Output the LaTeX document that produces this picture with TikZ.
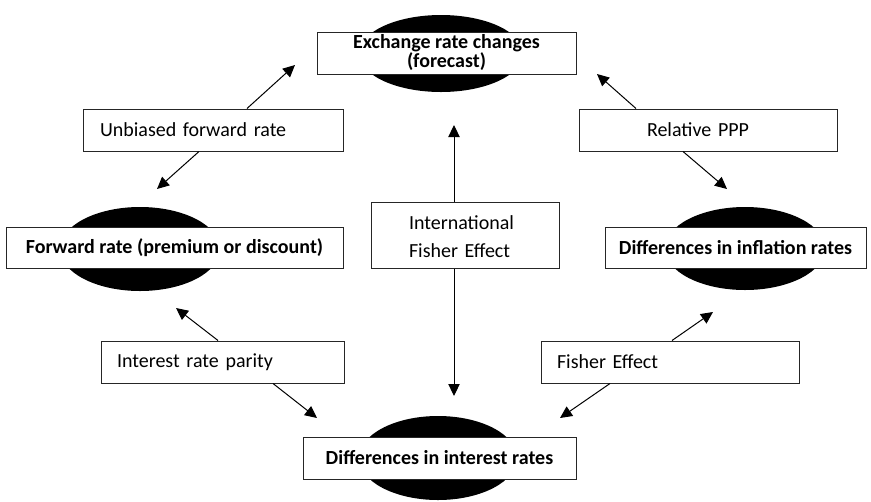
\documentclass[tikz,border=0pt]{standalone}
\usepackage{fontspec}
\setmainfont{Carlito}
\usetikzlibrary{shapes.geometric,arrows.meta}
\begin{document}
\begin{tikzpicture}[x=0.75pt,y=-0.75pt,
  blob/.style={ellipse,fill=black,draw=none,inner sep=0pt},
  keybox/.style={draw=black!85,line width=0.75pt,fill=white,inner sep=0pt,align=center,font=\fontsize{15}{14.25}\selectfont\bfseries},
  lbl/.style={draw=black!85,line width=0.75pt,fill=white,inner ysep=0pt,align=left,minimum height=31.5pt,font=\fontsize{15}{21}\selectfont},
  arr/.style={line width=0.75pt,-{Triangle[length=9pt,width=8.5pt]}}]
\useasboundingbox (0,0) rectangle (871,501);
% ellipses
\node[blob,minimum width=123pt,minimum height=57.75pt] (e1) at (441,53.5) {};
\node[blob,minimum width=120pt,minimum height=63pt] (e2) at (140,249) {};
\node[blob,minimum width=120pt,minimum height=62.25pt] (e3) at (745,248.5) {};
\node[blob,minimum width=118.5pt,minimum height=63pt] (e4) at (438,458) {};
% key boxes
\node[keybox,minimum width=194.25pt,minimum height=31.5pt,text height=25pt,text depth=4pt] (ex) at (446.5,53) {Exchange rate changes\\(forecast)};
\node[keybox,minimum width=252.75pt,minimum height=30.75pt] (fw) at (174.5,247.5) {Forward rate (premium or discount)};
\node[keybox,minimum width=195.75pt,minimum height=30.75pt] (inf) at (735.5,247.5) {Differences in inflation rates};
\node[keybox,minimum width=204.75pt,minimum height=31.5pt] (int) at (439.5,458) {Differences in interest rates};
% label boxes
\node[lbl,inner xsep=12.75pt,text width=169.5pt] (ub) at (213,130) {Unbiased forward rate};
\node[lbl,inner xsep=51pt,text width=91.5pt] (rp) at (708,130) {Relative PPP};
\node[lbl,inner xsep=28.5pt,text width=84pt,minimum height=49.5pt,text height=12pt,text depth=21pt] (ife) at (465,235) {International\\Fisher Effect};
\node[lbl,inner xsep=12pt,text width=158.25pt] (irp) at (222.5,362) {Interest rate parity};
\node[lbl,inner xsep=12pt,text width=169.5pt] (fe) at (670,362) {Fisher Effect};
% arrow tips
\coordinate (t1) at (295,65);
\coordinate (t2) at (157,189);
\coordinate (t3) at (597,74);
\coordinate (t4) at (727,189);
\coordinate (t5) at (454,125);
\coordinate (t6) at (454,396);
\coordinate (t7) at (176,308);
\coordinate (t8) at (317,418);
\coordinate (t9) at (713,312);
\coordinate (t10) at (560,418);
% arrow starts on the box edges
\coordinate (s1) at (247,0);
\coordinate (s2) at (199,0);
\coordinate (s3) at (636,0);
\coordinate (s4) at (683,0);
\coordinate (s7) at (218,0);
\coordinate (s8) at (273,0);
\coordinate (s9) at (672,0);
\coordinate (s10) at (610,0);
\draw[arr] (ub.north -| s1) -- (t1);
\draw[arr] (ub.south -| s2) -- (t2);
\draw[arr] (rp.north -| s3) -- (t3);
\draw[arr] (rp.south -| s4) -- (t4);
\draw[arr] (ife.north -| t5) -- (t5);
\draw[arr] (ife.south -| t6) -- (t6);
\draw[arr] (irp.north -| s7) -- (t7);
\draw[arr] (irp.south -| s8) -- (t8);
\draw[arr] (fe.north -| s9) -- (t9);
\draw[arr] (fe.south -| s10) -- (t10);
\end{tikzpicture}
\end{document}
